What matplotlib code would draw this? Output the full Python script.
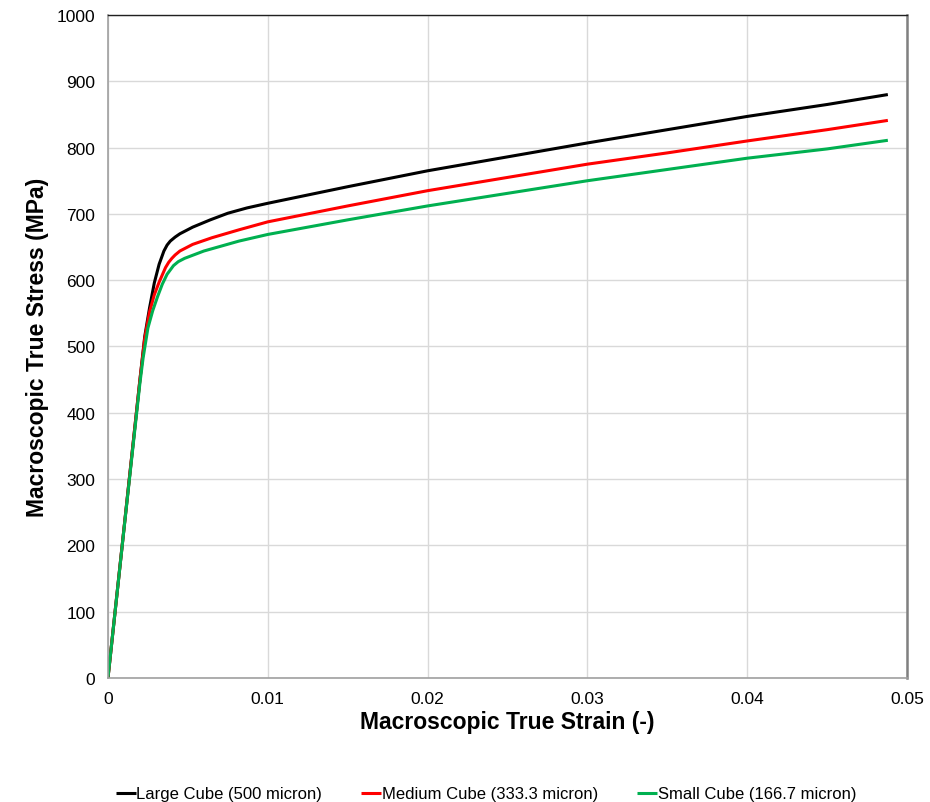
import matplotlib.pyplot as plt

plt.rcParams['font.family'] = ['Liberation Sans', 'DejaVu Sans']

# strain (-) and stress (MPa)
large_strain = [0, 0.001, 0.002, 0.0023, 0.0026, 0.0029, 0.0032, 0.0035, 0.0037,
                0.0039, 0.0042, 0.0045, 0.0053, 0.0064, 0.0075, 0.0087, 0.01, 0.015,
                0.02, 0.025, 0.03, 0.035, 0.04, 0.045, 0.0488]
large_stress = [0, 225, 450, 515, 558, 596, 624, 644, 653,
                659, 665, 670, 680, 691, 701, 709, 716, 741,
                765, 786, 807, 827, 847, 865, 880]

medium_strain = [0, 0.001, 0.002, 0.0023, 0.0026, 0.0029, 0.0032, 0.0036, 0.0038,
                 0.004, 0.0042, 0.0045, 0.0053, 0.0065, 0.0082, 0.01, 0.015,
                 0.02, 0.025, 0.03, 0.035, 0.04, 0.045, 0.0488]
medium_stress = [0, 225, 450, 512, 552, 578, 597, 619, 627,
                 633, 638, 644, 654, 664, 676, 688, 712,
                 735, 755, 775, 792, 810, 827, 841]

small_strain = [0, 0.001, 0.002, 0.0022, 0.0025, 0.0028, 0.0031, 0.0034, 0.0037,
                0.0041, 0.0044, 0.0048, 0.006, 0.0082, 0.01, 0.015, 0.02, 0.025,
                0.03, 0.035, 0.04, 0.045, 0.0488]
small_stress = [0, 224, 445, 483, 528, 554, 575, 594, 609,
                622, 628, 633, 644, 659, 669, 691, 712, 731,
                750, 767, 784, 798, 811]

series = [
    ('Large Cube (500 micron)', large_strain, large_stress, '#000000'),
    ('Medium Cube (333.3 micron)', medium_strain, medium_stress, '#ff0000'),
    ('Small Cube (166.7 micron)', small_strain, small_stress, '#00b050'),
]

fig = plt.figure(figsize=(9.3, 8.03), dpi=100)
ax = fig.add_axes([0.1161, 0.1544, 0.8592, 0.8257])

for label, x, y, c in series:
    ax.plot(x, y, color=c, lw=2.2, label=label,
            solid_joinstyle='round', solid_capstyle='butt')

ax.set_xlim(0, 0.05)
ax.set_ylim(0, 1000)
ax.set_xticks([0, 0.01, 0.02, 0.03, 0.04, 0.05])
ax.set_xticklabels(['0', '0.01', '0.02', '0.03', '0.04', '0.05'])
ax.set_yticks(range(0, 1001, 100))
ax.grid(True, color='#d9d9d9', lw=1)
ax.set_axisbelow(True)
ax.tick_params(length=0, labelsize=12.5)
ax.tick_params(axis='y', pad=9)
ax.tick_params(axis='x', pad=9)

for s in ['left', 'bottom']:
    ax.spines[s].set_color('#a0a0a0')
    ax.spines[s].set_linewidth(1.2)
ax.spines['right'].set_color('#808080')
ax.spines['right'].set_linewidth(1.8)
ax.spines['top'].set_color('#202020')
ax.spines['top'].set_linewidth(1.0)

ax.set_xlabel('Macroscopic True Strain (-)', fontsize=16.5, fontweight='bold', labelpad=3)
ax.set_ylabel('Macroscopic True Stress (MPa)', fontsize=16.5, fontweight='bold', labelpad=6)

fig.legend(loc='lower center', bbox_to_anchor=(0.5226, -0.018), ncol=3, frameon=False,
           fontsize=12, handlelength=1.2, handletextpad=0.05, columnspacing=2.33)

fig.savefig('out.png', dpi=100)
